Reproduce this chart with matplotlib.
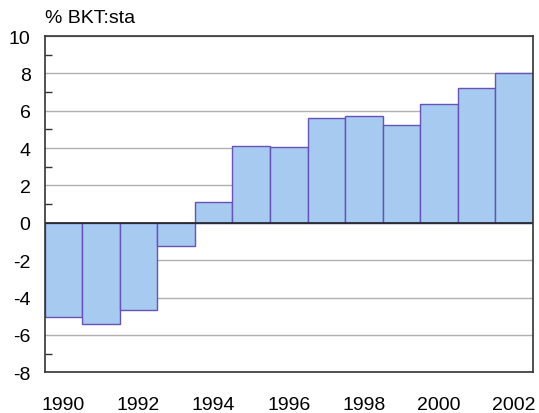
import matplotlib
matplotlib.use("Agg")
import matplotlib.pyplot as plt
from matplotlib.ticker import MultipleLocator

years = [1990, 1991, 1992, 1993, 1994, 1995, 1996, 1997, 1998, 1999, 2000, 2001, 2002]
values = [-5.06, -5.42, -4.65, -1.26, 1.09, 4.12, 4.06, 5.6, 5.7, 5.26, 6.36, 7.2, 8.02]
xtick_years = [1990, 1992, 1994, 1996, 1998, 2000, 2002]
title = "% BKT:sta"

plt.rcParams['font.family'] = ['Liberation Sans', 'DejaVu Sans']
plt.rcParams['axes.unicode_minus'] = False

fig = plt.figure(figsize=(5.39, 4.14), dpi=100)
ax = fig.add_axes([44.5/539, 1 - 373.3/414, (533 - 44.5)/539, (373.3 - 37)/414])

ax.bar(years, values, width=1.0, color='#A6CAF0', edgecolor='#6652B8', linewidth=1.0, zorder=3)
ax.set_xlim(1989.5, 2002.5)
ax.set_ylim(-8, 10)
ax.yaxis.set_major_locator(MultipleLocator(2))
ax.yaxis.set_minor_locator(MultipleLocator(1))
ax.set_xticks(xtick_years)
ax.set_xticklabels([str(y) for y in xtick_years])
ax.grid(axis='y', which='major', color='#B0B0B0', linewidth=1.0, zorder=0)
ax.axhline(0, color='#222222', linewidth=1.2, zorder=4)

ax.tick_params(axis='x', length=0, pad=17, labelsize=14)
ax.tick_params(axis='y', which='major', length=0, pad=10, labelsize=14)
ax.tick_params(axis='y', which='minor', length=5, direction='in', color='#333333', width=1)
for s in ax.spines.values():
    s.set_color('#333333')
    s.set_linewidth(1.2)
    s.set_zorder(5)

fig.text(45/539, 1 - 18.5/414, title, ha='left', va='center', fontsize=14)

fig.savefig('out.png', dpi=100)
